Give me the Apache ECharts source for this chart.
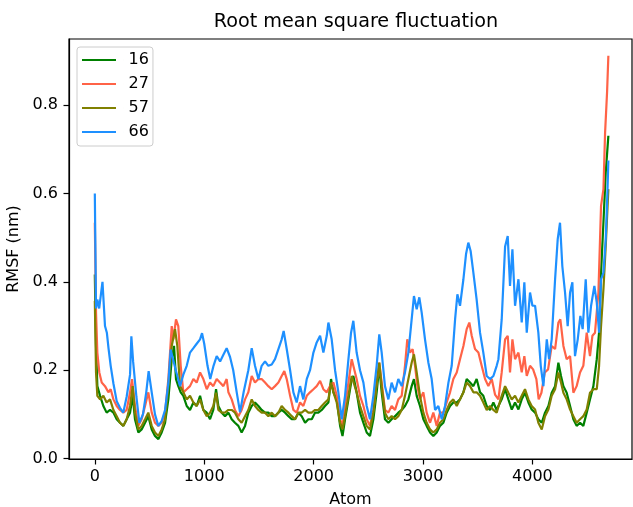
<!DOCTYPE html>
<html>
<head>
<meta charset="utf-8">
<script src="https://cdn.jsdelivr.net/npm/echarts@6/dist/echarts.min.js"></script>
<style>
  html, body { margin: 0; padding: 0; background: #fff; }
  #main { width: 633px; height: 507px; }
</style>
</head>
<body>
<div id="main"></div>
<script>
var seriesNames = ['16', '27', '57', '66'];
var xTicks = [0, 1000, 2000, 3000, 4000];
var yTicks = [0, 0.2, 0.4, 0.6, 0.8];

var atoms16 = [0, 11, 23, 48, 78, 108, 139, 170, 200, 230, 261, 291, 322, 346, 367, 398, 428, 459, 489, 520, 550, 581, 611, 642, 672, 703, 724, 742, 763, 785, 809, 840, 870, 901, 931, 962, 992, 1023, 1053, 1083, 1108, 1129, 1160, 1190, 1221, 1251, 1281, 1312, 1342, 1373, 1403, 1434, 1464, 1495, 1525, 1556, 1586, 1617, 1647, 1678, 1708, 1739, 1770, 1800, 1830, 1861, 1891, 1922, 1952, 1983, 2013, 2043, 2074, 2104, 2135, 2159, 2181, 2211, 2242, 2264, 2287, 2318, 2348, 2363, 2393, 2424, 2455, 2485, 2515, 2546, 2576, 2600, 2622, 2652, 2683, 2713, 2744, 2774, 2805, 2835, 2866, 2896, 2917, 2942, 2972, 3003, 3033, 3064, 3094, 3125, 3155, 3186, 3216, 3247, 3277, 3308, 3338, 3369, 3399, 3430, 3460, 3490, 3521, 3551, 3582, 3612, 3643, 3673, 3689, 3719, 3750, 3780, 3811, 3841, 3872, 3902, 3932, 3963, 3993, 4024, 4054, 4085, 4115, 4146, 4176, 4207, 4237, 4261, 4283, 4313, 4344, 4374, 4404, 4435, 4465, 4496, 4526, 4557, 4588, 4609, 4627, 4649, 4670, 4694];
var rmsf16 = [0.417, 0.255, 0.164, 0.142, 0.119, 0.104, 0.11, 0.104, 0.089, 0.081, 0.074, 0.089, 0.104, 0.142, 0.089, 0.059, 0.066, 0.081, 0.096, 0.066, 0.051, 0.044, 0.059, 0.081, 0.134, 0.225, 0.255, 0.18, 0.164, 0.15, 0.142, 0.119, 0.11, 0.127, 0.119, 0.142, 0.11, 0.104, 0.089, 0.11, 0.157, 0.119, 0.104, 0.096, 0.104, 0.089, 0.081, 0.074, 0.059, 0.074, 0.104, 0.119, 0.127, 0.119, 0.11, 0.104, 0.104, 0.096, 0.096, 0.104, 0.11, 0.104, 0.096, 0.089, 0.089, 0.104, 0.096, 0.081, 0.089, 0.089, 0.104, 0.104, 0.11, 0.119, 0.127, 0.18, 0.15, 0.134, 0.074, 0.051, 0.089, 0.134, 0.18, 0.187, 0.15, 0.104, 0.081, 0.059, 0.051, 0.089, 0.15, 0.21, 0.15, 0.089, 0.081, 0.089, 0.096, 0.104, 0.11, 0.119, 0.134, 0.164, 0.18, 0.142, 0.119, 0.089, 0.074, 0.059, 0.051, 0.059, 0.074, 0.081, 0.104, 0.119, 0.127, 0.127, 0.134, 0.15, 0.18, 0.172, 0.164, 0.18, 0.15, 0.142, 0.119, 0.11, 0.127, 0.11, 0.119, 0.134, 0.157, 0.134, 0.111, 0.127, 0.111, 0.134, 0.149, 0.127, 0.111, 0.104, 0.089, 0.081, 0.104, 0.119, 0.149, 0.164, 0.217, 0.187, 0.164, 0.149, 0.119, 0.089, 0.074, 0.081, 0.074, 0.104, 0.134, 0.164, 0.225, 0.285, 0.421, 0.535, 0.648, 0.731];

var atoms27 = [0, 11, 23, 41, 63, 93, 124, 145, 170, 200, 230, 261, 291, 322, 340, 367, 398, 428, 459, 489, 520, 550, 581, 611, 642, 672, 703, 718, 742, 763, 785, 809, 840, 870, 901, 931, 962, 992, 1023, 1053, 1083, 1114, 1144, 1175, 1205, 1221, 1251, 1281, 1312, 1342, 1373, 1403, 1434, 1464, 1495, 1525, 1556, 1586, 1617, 1647, 1678, 1708, 1732, 1754, 1785, 1815, 1845, 1876, 1906, 1937, 1967, 1998, 2028, 2059, 2089, 2120, 2150, 2181, 2211, 2242, 2264, 2287, 2318, 2348, 2363, 2393, 2424, 2455, 2485, 2515, 2546, 2576, 2600, 2622, 2652, 2683, 2713, 2744, 2774, 2805, 2835, 2856, 2881, 2905, 2927, 2948, 2972, 3003, 3033, 3064, 3094, 3125, 3155, 3186, 3216, 3247, 3277, 3308, 3338, 3369, 3399, 3423, 3445, 3475, 3506, 3536, 3567, 3597, 3628, 3658, 3689, 3719, 3750, 3774, 3795, 3817, 3841, 3872, 3902, 3926, 3948, 3978, 4006, 4036, 4057, 4082, 4113, 4143, 4176, 4207, 4237, 4255, 4283, 4313, 4344, 4374, 4404, 4435, 4465, 4496, 4526, 4548, 4572, 4603, 4627, 4649, 4664, 4682, 4694];
var rmsf27 = [0.534, 0.33, 0.24, 0.195, 0.172, 0.164, 0.15, 0.157, 0.134, 0.119, 0.11, 0.104, 0.11, 0.15, 0.18, 0.119, 0.074, 0.089, 0.119, 0.15, 0.104, 0.081, 0.074, 0.081, 0.104, 0.18, 0.30, 0.27, 0.315, 0.30, 0.21, 0.15, 0.157, 0.164, 0.18, 0.172, 0.195, 0.18, 0.157, 0.172, 0.164, 0.18, 0.172, 0.164, 0.18, 0.15, 0.134, 0.11, 0.096, 0.11, 0.134, 0.15, 0.187, 0.172, 0.18, 0.18, 0.172, 0.164, 0.157, 0.164, 0.172, 0.187, 0.198, 0.18, 0.142, 0.11, 0.104, 0.127, 0.119, 0.142, 0.15, 0.157, 0.164, 0.176, 0.157, 0.15, 0.164, 0.172, 0.142, 0.089, 0.074, 0.119, 0.172, 0.225, 0.228, 0.18, 0.142, 0.119, 0.089, 0.074, 0.11, 0.172, 0.217, 0.172, 0.11, 0.104, 0.119, 0.11, 0.134, 0.142, 0.21, 0.27, 0.24, 0.248, 0.21, 0.164, 0.134, 0.15, 0.104, 0.081, 0.104, 0.074, 0.104, 0.104, 0.127, 0.15, 0.18, 0.195, 0.225, 0.255, 0.293, 0.308, 0.278, 0.248, 0.24, 0.21, 0.18, 0.164, 0.18, 0.145, 0.134, 0.195, 0.27, 0.278, 0.195, 0.27, 0.225, 0.24, 0.195, 0.232, 0.187, 0.21, 0.202, 0.18, 0.134, 0.149, 0.195, 0.202, 0.255, 0.248, 0.308, 0.315, 0.255, 0.225, 0.232, 0.149, 0.164, 0.195, 0.21, 0.285, 0.232, 0.278, 0.285, 0.376, 0.572, 0.61, 0.738, 0.829, 0.912];

var atoms57 = [0, 11, 23, 48, 78, 108, 139, 170, 200, 230, 261, 291, 322, 346, 367, 398, 428, 459, 489, 520, 550, 581, 611, 642, 672, 703, 733, 754, 779, 809, 840, 870, 901, 931, 962, 992, 1023, 1053, 1083, 1108, 1129, 1160, 1190, 1221, 1251, 1281, 1312, 1342, 1373, 1403, 1434, 1464, 1495, 1525, 1556, 1586, 1617, 1647, 1678, 1708, 1739, 1770, 1800, 1830, 1861, 1891, 1922, 1952, 1983, 2013, 2043, 2074, 2104, 2135, 2159, 2181, 2211, 2242, 2264, 2287, 2318, 2348, 2363, 2393, 2424, 2454, 2485, 2515, 2546, 2576, 2600, 2622, 2652, 2683, 2713, 2744, 2774, 2805, 2835, 2866, 2896, 2917, 2942, 2972, 3003, 3033, 3064, 3094, 3125, 3155, 3186, 3216, 3247, 3277, 3308, 3338, 3369, 3399, 3430, 3460, 3490, 3521, 3551, 3582, 3612, 3643, 3673, 3719, 3750, 3780, 3811, 3841, 3872, 3902, 3932, 3963, 3993, 4024, 4054, 4085, 4115, 4146, 4176, 4207, 4237, 4261, 4283, 4313, 4344, 4374, 4404, 4435, 4465, 4496, 4526, 4557, 4588, 4609, 4627, 4649, 4670, 4694];
var rmsf57 = [0.357, 0.195, 0.142, 0.134, 0.142, 0.127, 0.134, 0.11, 0.096, 0.081, 0.074, 0.089, 0.119, 0.164, 0.104, 0.066, 0.074, 0.089, 0.104, 0.074, 0.059, 0.051, 0.066, 0.089, 0.164, 0.255, 0.293, 0.255, 0.164, 0.15, 0.134, 0.142, 0.127, 0.119, 0.134, 0.11, 0.096, 0.104, 0.119, 0.149, 0.11, 0.104, 0.104, 0.11, 0.11, 0.104, 0.089, 0.081, 0.096, 0.11, 0.134, 0.119, 0.11, 0.104, 0.104, 0.096, 0.104, 0.096, 0.104, 0.119, 0.11, 0.104, 0.096, 0.089, 0.104, 0.104, 0.11, 0.104, 0.104, 0.11, 0.11, 0.119, 0.127, 0.134, 0.172, 0.15, 0.127, 0.081, 0.066, 0.096, 0.142, 0.187, 0.191, 0.15, 0.119, 0.096, 0.074, 0.066, 0.104, 0.172, 0.217, 0.164, 0.104, 0.089, 0.096, 0.089, 0.096, 0.11, 0.142, 0.18, 0.217, 0.236, 0.195, 0.142, 0.104, 0.081, 0.066, 0.059, 0.066, 0.081, 0.089, 0.11, 0.127, 0.134, 0.119, 0.134, 0.15, 0.172, 0.164, 0.15, 0.15, 0.142, 0.127, 0.11, 0.119, 0.11, 0.104, 0.142, 0.164, 0.149, 0.134, 0.142, 0.127, 0.142, 0.157, 0.134, 0.119, 0.111, 0.081, 0.066, 0.096, 0.111, 0.142, 0.157, 0.195, 0.172, 0.149, 0.134, 0.111, 0.096, 0.081, 0.089, 0.096, 0.111, 0.149, 0.157, 0.157, 0.21, 0.30, 0.384, 0.482, 0.61];

var atoms66 = [0, 11, 23, 40, 70, 93, 110, 125, 145, 170, 200, 230, 260, 291, 322, 334, 350, 380, 407, 440, 470, 492, 520, 550, 580, 611, 642, 672, 693, 715, 740, 779, 809, 840, 870, 901, 931, 962, 980, 1000, 1030, 1055, 1085, 1114, 1145, 1175, 1205, 1236, 1265, 1297, 1327, 1360, 1403, 1434, 1464, 1495, 1525, 1556, 1586, 1617, 1647, 1678, 1708, 1726, 1754, 1785, 1815, 1845, 1876, 1906, 1937, 1967, 1998, 2028, 2059, 2089, 2120, 2135, 2165, 2196, 2226, 2257, 2287, 2318, 2342, 2363, 2393, 2424, 2455, 2485, 2515, 2546, 2576, 2600, 2622, 2652, 2683, 2713, 2744, 2774, 2805, 2835, 2866, 2896, 2917, 2942, 2966, 2988, 3018, 3049, 3079, 3110, 3140, 3171, 3201, 3232, 3262, 3293, 3314, 3338, 3369, 3393, 3414, 3435, 3460, 3490, 3521, 3551, 3582, 3612, 3643, 3673, 3689, 3719, 3750, 3774, 3795, 3817, 3841, 3872, 3902, 3926, 3948, 3978, 4000, 4024, 4054, 4076, 4100, 4131, 4152, 4176, 4207, 4231, 4252, 4273, 4298, 4322, 4344, 4365, 4389, 4414, 4438, 4459, 4487, 4511, 4536, 4566, 4588, 4609, 4627, 4649, 4670, 4685, 4694];
var rmsf66 = [0.60, 0.34, 0.36, 0.34, 0.40, 0.30, 0.285, 0.25, 0.21, 0.17, 0.13, 0.115, 0.104, 0.14, 0.19, 0.277, 0.22, 0.14, 0.081, 0.10, 0.15, 0.198, 0.15, 0.10, 0.074, 0.085, 0.11, 0.17, 0.247, 0.225, 0.20, 0.164, 0.19, 0.21, 0.24, 0.25, 0.26, 0.27, 0.284, 0.26, 0.21, 0.18, 0.21, 0.232, 0.22, 0.235, 0.25, 0.23, 0.20, 0.15, 0.105, 0.15, 0.20, 0.25, 0.21, 0.18, 0.21, 0.22, 0.21, 0.213, 0.225, 0.248, 0.27, 0.289, 0.248, 0.20, 0.15, 0.127, 0.164, 0.134, 0.18, 0.20, 0.24, 0.263, 0.278, 0.24, 0.278, 0.308, 0.27, 0.20, 0.15, 0.089, 0.142, 0.225, 0.285, 0.312, 0.24, 0.20, 0.172, 0.119, 0.089, 0.142, 0.21, 0.281, 0.24, 0.164, 0.134, 0.172, 0.15, 0.18, 0.164, 0.195, 0.24, 0.315, 0.368, 0.338, 0.365, 0.33, 0.27, 0.217, 0.18, 0.11, 0.119, 0.089, 0.119, 0.172, 0.21, 0.315, 0.372, 0.346, 0.406, 0.463, 0.489, 0.47, 0.421, 0.36, 0.285, 0.24, 0.187, 0.18, 0.187, 0.21, 0.225, 0.315, 0.48, 0.504, 0.391, 0.474, 0.346, 0.406, 0.308, 0.399, 0.285, 0.376, 0.346, 0.346, 0.285, 0.21, 0.164, 0.27, 0.225, 0.27, 0.406, 0.497, 0.534, 0.436, 0.376, 0.30, 0.376, 0.399, 0.232, 0.27, 0.323, 0.293, 0.406, 0.285, 0.346, 0.391, 0.353, 0.285, 0.406, 0.421, 0.497, 0.60, 0.675];

var colors = ['#008000', '#ff6347', '#808000', '#1e90ff'];
var atomLists = [atoms16, atoms27, atoms57, atoms66];
var rmsfLists = [rmsf16, rmsf27, rmsf57, rmsf66];

var font = 'DejaVu Sans';
var chart = echarts.init(document.getElementById('main'));

chart.setOption({
  animation: false,
  textStyle: { fontFamily: font },
  title: {
    text: 'Root mean square fluctuation',
    left: 351,
    top: 8,
    textAlign: 'center',
    textStyle: { fontFamily: font, fontSize: 19.2, fontWeight: 'normal', color: '#000' }
  },
  legend: {
    data: seriesNames,
    orient: 'vertical',
    left: 77,
    top: 47,
    padding: [5, 4, 6, 5],
    itemGap: 8,
    itemWidth: 41.6,
    itemHeight: 2,
    // line handle plus a hair-thin marker so the label sits further right
    icon: 'path://M0,0h34v2h-34z M41.6,0h0.01v2h-0.01z',
    borderColor: '#cccccc',
    borderWidth: 1,
    borderRadius: 3,
    backgroundColor: 'rgba(255,255,255,0.8)',
    textStyle: { fontFamily: font, fontSize: 16, color: '#000', lineHeight: 16 }
  },
  grid: {
    left: 69,
    right: 1,
    top: 39,
    bottom: 48,
    show: true,
    borderColor: '#000',
    borderWidth: 1.2,
    containLabel: false,
    outerBoundsMode: 'none'
  },
  xAxis: {
    type: 'value',
    min: -236,
    max: 4910,
    name: 'Atom',
    nameLocation: 'middle',
    nameGap: 33,
    nameTextStyle: { fontFamily: font, fontSize: 16, color: '#000' },
    splitLine: { show: false },
    axisLine: { onZero: false, lineStyle: { color: '#000', width: 1.2 } },
    axisTick: { show: true, length: 5.5, customValues: xTicks, lineStyle: { color: '#000', width: 1.2 } },
    axisLabel: {
      customValues: xTicks,
      margin: 10,
      fontFamily: font,
      fontSize: 16,
      color: '#000',
      formatter: function (v) { return String(v); }
    }
  },
  yAxis: {
    type: 'value',
    min: -0.001,
    max: 0.95,
    name: 'RMSF (nm)',
    nameLocation: 'middle',
    nameGap: 44,
    nameTextStyle: { fontFamily: font, fontSize: 16, color: '#000' },
    splitLine: { show: false },
    axisLine: { show: true, onZero: false, lineStyle: { color: '#000', width: 1.2 } },
    axisTick: { show: true, length: 5.5, customValues: yTicks, lineStyle: { color: '#000', width: 1.2 } },
    axisLabel: {
      customValues: yTicks,
      margin: 11,
      fontFamily: font,
      fontSize: 16,
      color: '#000',
      formatter: function (v) { return v.toFixed(1); }
    }
  },
  series: seriesNames.map(function (name, i) {
    return {
      name: name,
      type: 'line',
      showSymbol: false,
      symbol: 'none',
      color: colors[i],
      lineStyle: { color: colors[i], width: 2.2 },
      data: atomLists[i].map(function (a, k) { return [a, rmsfLists[i][k]]; })
    };
  })
});
</script>
</body>
</html>
